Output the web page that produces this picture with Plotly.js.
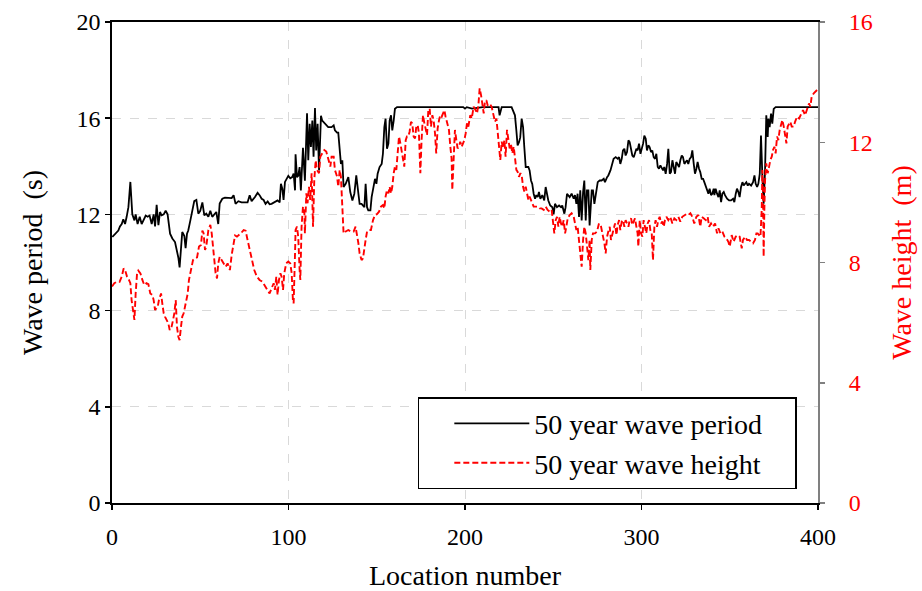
<!DOCTYPE html>
<html>
<head>
<meta charset="utf-8">
<script src="https://cdn.plot.ly/plotly-3.0.1.min.js"></script>
<style>html,body{margin:0;padding:0;background:#fff;}#chart{width:922px;height:591px;}</style>
</head>
<body>
<div id="chart"></div>
<script>
// 50 year wave period (s), left axis
const periodLoc = [0.2,1.7,3.6,4.5,5.5,6.4,7.4,8.3,9.3,10.4,11.5,12.7,13.4,14.5,15.7,16.8,17.9,19.1,20.2,21.3,22.5,23.6,24.4,25.3,26.3,27.2,28.1,29.3,30.4,31.5,32.9,34.2,35.7,36.8,37.6,38.3,39.1,39.8,41.0,41.7,42.5,43.2,44.4,45.5,46.6,47.8,48.9,50.0,51.2,52.3,53.4,54.6,55.7,56.8,58.0,59.1,60.2,61.0,62.5,64.0,67.8,68.9,70.0,71.6,73.4,75.3,76.8,78.0,79.1,81.0,82.5,83.6,84.8,85.9,87.0,88.2,89.3,90.4,92.0,93.8,95.0,95.7,96.5,97.2,98.0,99.1,99.9,101.0,102.1,102.9,103.7,104.0,104.8,105.5,106.3,107.0,108.2,109.3,110.5,111.2,112.0,112.7,113.5,114.2,115.0,115.7,116.5,117.3,118.4,119.1,120.7,122.5,124.4,125.6,126.3,127.5,128.2,129.0,129.7,130.5,131.2,132.4,133.9,135.0,136.2,137.3,138.4,139.6,140.3,141.4,142.2,143.0,143.7,144.5,145.2,146.4,147.1,148.2,149.0,149.8,150.5,151.6,152.8,153.5,154.3,155.0,155.8,156.6,157.3,158.1,158.8,159.6,160.3,161.5,170,180,190,199,200,201,204,210,215,219,219.6,220.8,226.4,227.6,228.3,229.1,229.8,230.6,231.3,232.1,232.9,233.6,234.4,235.9,236.6,237.4,238.1,238.9,239.7,240.4,241.2,241.9,242.7,243.8,244.9,245.7,246.5,247.2,248.3,249.5,250.2,251.0,252.1,253.3,254.4,255.1,256.3,257.0,257.8,258.5,259.3,260.4,261.6,262.3,263.1,263.8,264.6,265.3,266.1,266.9,267.6,268.4,269.1,269.9,270.6,271.8,272.5,273.3,274.0,275.2,276.3,277.4,278.6,279.3,280.5,281.2,282.4,283.1,284.2,285.4,286.5,287.3,288.0,288.8,289.5,290.3,291.0,291.8,292.6,293.3,294.1,294.8,295.6,296.3,297.1,297.8,298.6,299.4,300.1,300.9,301.6,302.4,303.1,303.9,304.6,305.4,306.1,306.9,307.7,308.4,309.2,309.9,310.7,311.4,312.2,312.9,313.7,314.5,315.2,316.0,316.7,317.5,318.2,319.0,319.7,320.5,321.3,322.0,322.8,323.5,324.3,325.0,325.8,326.5,327.3,328.1,328.8,329.6,330.3,331.1,331.8,332.6,333.3,334.1,334.9,335.6,336.4,337.1,337.9,338.6,339.4,340.1,340.9,341.3,342.0,342.8,343.6,344.3,345.1,345.8,346.6,347.3,348.5,349.6,350.7,351.9,352.6,353.4,354.1,354.9,355.6,356.4,357.2,357.9,358.7,359.4,360.2,360.9,362.1,363.2,364.0,364.7,365.5,366.2,367.0,367.7,368.5,369.2,370.0,370.7,371.5,371.9,372.6,373.4,374.1,374.9,376.0,385,400];
const periodVal = [11.06,11.2,11.33,11.5,11.6,11.8,11.6,11.9,12.3,13.35,12.0,11.75,12.0,11.6,11.9,11.6,11.8,11.95,11.9,11.95,11.6,12.0,11.5,12.4,11.55,12.1,11.96,12.0,12.15,12.0,11.2,11.0,10.85,10.5,10.2,9.8,10.5,11.27,11.1,10.6,11.2,11.33,11.75,12.15,12.55,12.6,12.03,12.15,12.5,11.96,12.03,11.9,12.15,11.9,12.0,12.1,11.6,12.45,12.65,12.7,12.68,12.8,12.44,12.55,12.5,12.5,12.5,12.8,12.55,12.72,12.9,12.8,12.65,12.6,12.44,12.54,12.42,12.44,12.5,12.58,12.5,13.27,13.07,12.6,13.35,13.5,13.6,13.5,13.55,13.7,13.0,14.5,13.55,13.6,13.97,13.0,14.77,13.4,16.2,14.25,15.77,14.8,15.9,14.4,16.42,14.66,15.77,13.83,16.1,15.9,15.77,15.63,15.63,15.7,15.5,15.4,15.4,14.8,14.1,14.25,13.14,13.27,13.55,12.93,12.58,12.86,13.62,12.86,12.44,12.44,12.37,12.3,13.27,12.3,12.17,12.17,12.72,13.27,13.48,13.27,13.69,13.97,14.1,14.52,15.63,15.98,14.73,14.94,15.9,16.12,15.49,15.9,16.39,16.46,16.46,16.46,16.46,16.46,16.4,16.46,16.4,16.46,16.46,16.46,16.12,16.46,16.46,16.25,16.12,15.49,14.87,15.0,15.2,15.98,15.63,14.8,13.97,13.97,13.83,13.41,13.27,12.86,12.65,12.8,12.72,12.93,12.65,12.8,12.58,13.14,12.86,12.58,12.37,12.3,12.0,12.44,12.3,12.37,12.3,12.37,12.03,12.3,12.86,12.8,12.72,12.86,12.65,12.8,12.44,12.86,11.89,13.0,11.75,12.93,13.41,11.75,13.0,13.0,11.54,13.0,13.0,12.44,12.86,13.34,13.41,13.41,13.48,13.34,13.55,13.62,13.83,14.04,14.31,14.38,14.31,14.38,14.1,14.31,14.66,14.73,14.45,14.59,15.08,15.01,14.59,14.45,14.38,14.59,14.73,14.66,14.94,14.52,14.73,14.94,15.28,15.15,14.66,14.87,14.8,14.59,14.66,14.38,14.31,14.52,13.97,13.9,14.04,13.9,13.83,13.97,13.69,14.1,14.73,13.69,13.76,14.25,14.04,13.69,14.18,14.1,13.97,14.25,14.45,14.38,14.1,14.18,14.25,14.1,14.31,14.38,14.66,14.1,13.69,13.9,14.18,13.9,13.76,13.48,13.48,13.34,13.14,13.0,12.86,13.07,12.8,12.86,13.07,12.8,13.07,12.86,12.72,13.0,12.51,12.86,12.93,12.8,12.65,12.58,12.58,12.65,12.51,12.86,13.07,12.93,12.72,13.14,13.34,13.2,13.27,13.34,13.2,13.27,13.2,13.34,13.62,13.27,13.14,13.27,13.69,15.28,13.55,12.44,13.83,16.12,15.22,15.98,15.63,16.19,15.77,16.39,16.46,16.46,16.46];

// 50 year wave height (m), right axis
const heightLoc = [0,1.3,2.8,4.3,5.5,6.6,7.4,8.5,9.6,10.4,11.1,11.9,12.7,13.4,14.2,14.9,16.1,17.2,18.3,19.5,20.6,21.7,22.9,23.6,24.4,25.1,25.9,26.6,27.8,28.5,29.3,30.0,31.2,31.9,32.7,33.8,34.6,35.3,36.1,36.8,37.6,38.3,39.1,39.8,40.6,41.4,42.1,42.9,43.6,44.8,45.9,47.0,48.2,49.3,50.4,51.2,51.9,52.7,53.4,54.6,55.7,56.5,57.2,58.0,58.7,59.5,60.2,61.0,62.1,63.3,64.4,65.5,66.8,67.8,68.7,69.7,70.8,71.9,73.0,74.6,75.7,76.8,78.0,79.1,80.6,82.1,83.6,85.2,86.7,88.2,89.3,90.4,91.6,92.3,93.1,93.8,94.6,95.4,96.1,96.9,97.6,98.7,99.9,101.0,101.8,102.5,102.9,103.7,104.0,104.8,105.5,106.3,106.7,107.4,108.2,109.0,109.3,110.1,110.8,111.6,112.3,113.1,113.9,114.6,115.4,116.1,117.3,118.0,119.1,120.3,121.4,122.5,123.7,124.4,125.6,126.3,127.5,128.2,129.0,129.7,130.5,131.2,132.4,133.9,135.4,136.9,138.0,138.8,139.6,140.3,141.4,142.2,143.0,143.7,144.5,145.6,146.7,147.9,149.0,150.1,151.3,152.4,153.5,154.3,155.0,155.8,156.6,157.3,158.1,158.8,159.6,160.3,161.1,161.8,162.6,163.4,164.1,164.9,165.6,166.4,167.1,167.9,168.6,169.4,170.1,170.9,171.7,172.4,173.2,173.9,174.7,175.4,176.2,177.0,177.7,178.5,179.2,180.0,180.7,181.5,182.2,183.0,183.7,184.5,185.3,186.0,186.8,187.5,188.3,189.0,189.8,190.9,191.7,192.4,192.8,193.6,194.3,195.1,195.8,196.6,197.3,198.1,198.9,199.6,200.4,201.1,201.9,203.0,203.8,204.9,206.0,206.8,207.6,208.3,209.1,209.8,210.6,211.3,212.1,212.8,214.0,215.1,216.2,217.0,217.8,218.5,219.3,220.0,220.8,221.5,222.3,223.0,223.8,224.6,225.3,226.1,226.8,227.6,228.3,229.1,229.8,230.6,231.4,232.1,232.9,233.6,234.4,235.1,235.9,236.6,237.4,238.1,238.9,240.0,241.2,242.3,243.4,244.6,245.7,246.8,248.0,249.1,249.9,250.6,251.4,252.1,252.9,253.6,254.4,255.1,255.9,256.7,257.4,258.2,259.3,260.4,261.6,262.3,263.1,263.8,264.6,265.3,266.1,266.9,267.6,268.4,269.1,269.9,270.6,271.0,271.8,272.5,273.7,274.8,275.9,277.1,278.2,279.0,279.7,280.5,281.2,282.0,282.7,283.5,284.2,285.0,285.8,286.5,287.3,288.0,288.8,289.5,290.3,291.0,291.8,292.6,293.3,294.1,294.8,295.6,296.3,297.1,297.8,298.2,299.0,299.7,300.5,301.2,302.0,302.7,303.5,304.3,305.0,305.8,306.5,307.3,308.0,308.8,309.5,310.3,311.1,311.8,312.6,313.3,314.1,315.2,316.3,317.5,318.6,319.7,320.9,322.0,323.1,324.3,325.4,326.5,327.7,328.8,329.9,331.1,332.2,333.3,334.1,335.2,336.4,337.5,338.3,339.4,340.5,341.7,342.8,343.6,344.7,345.8,347.0,348.1,349.2,350.0,351.1,352.2,353.4,354.5,355.6,356.8,357.5,358.7,359.8,360.9,362.1,363.2,364.3,365.1,365.8,366.6,367.4,368.1,368.5,368.9,369.2,369.6,370.0,370.7,371.5,372.3,373.0,373.8,374.5,375.3,376.0,376.8,377.5,378.3,379.1,379.8,380.6,381.3,382.1,382.8,383.6,384.3,385.1,386.2,387.0,388.1,389.3,390.4,391.5,392.7,393.8,394.9,395.7,396.4,397.6,398.7,399.5];
const heightVal = [7.2,7.31,7.36,7.36,7.53,7.8,7.75,7.53,7.42,7.31,6.75,6.31,6.09,6.97,7.64,7.73,7.64,7.42,7.25,7.31,7.28,6.97,6.92,6.75,6.42,6.47,6.53,6.75,6.97,6.64,6.31,6.2,6.09,5.98,5.75,5.87,6.09,6.31,6.75,5.87,5.53,5.42,5.87,6.2,6.31,6.53,6.75,6.97,7.42,7.75,8.08,8.14,8.17,8.53,8.58,9.06,8.97,8.42,8.53,9.08,9.25,8.97,8.53,8.08,7.64,7.47,7.97,8.19,8.08,7.97,7.86,7.97,7.75,8.25,8.53,8.9,8.86,8.9,8.97,9.08,9.06,8.75,8.42,8.08,7.75,7.53,7.42,7.36,7.2,7.09,6.97,7.14,7.31,7.09,7.53,6.92,7.42,7.64,7.53,7.09,7.64,7.97,8.03,7.97,7.64,6.75,6.64,8.3,9.08,9.19,8.86,7.75,7.42,9.19,9.86,9.64,8.97,10.3,9.97,10.52,10.08,10.97,9.19,10.74,11.4,11.08,10.97,11.52,11.63,11.74,11.69,11.41,11.19,11.52,11.52,11.08,10.86,10.52,11.08,10.86,9.86,8.97,9.03,9.08,9.03,9.03,9.19,8.97,8.64,8.3,8.08,8.14,8.53,8.75,9.03,9.08,9.08,9.41,9.58,9.61,9.69,9.86,9.91,9.8,10.19,10.41,10.3,10.52,10.3,10.52,10.97,11.19,11.08,11.74,12.19,11.96,11.69,11.52,11.19,12.07,12.19,12.19,12.35,12.68,12.63,12.19,12.13,12.52,12.57,12.3,10.97,12.07,12.9,12.63,12.41,12.24,13.06,13.12,12.52,12.9,12.74,12.3,11.63,12.46,12.74,12.9,12.85,12.96,13.07,12.85,12.68,12.41,11.85,11.46,10.41,11.63,12.41,12.07,11.8,11.85,12.02,11.85,11.96,12.07,12.3,12.63,12.52,12.9,12.79,13.18,13.07,12.96,13.24,13.79,13.57,13.29,12.96,13.35,13.4,13.24,13.29,13.18,12.85,12.68,12.79,12.35,11.85,11.41,12.02,11.8,12.07,11.52,12.41,12.07,11.8,11.91,11.63,11.85,11.41,11.08,11.02,10.85,10.97,10.91,10.52,10.36,10.52,10.36,10.08,10.19,10.08,9.97,9.86,9.86,9.86,9.8,9.8,9.75,9.86,9.75,9.69,9.75,9.3,8.97,9.41,9.52,9.19,9.52,9.3,9.19,9.41,8.97,9.19,9.47,9.58,9.64,9.52,9.3,9.08,9.19,8.75,8.19,7.86,8.75,9.19,8.97,8.53,8.08,8.75,7.75,8.75,8.97,8.97,9.03,9.3,9.19,8.86,8.64,8.3,8.86,9.03,9.19,8.75,8.97,9.14,9.3,8.91,9.25,9.41,9.08,9.36,9.41,9.19,9.41,9.3,9.19,9.41,9.47,9.25,9.41,9.47,9.19,8.97,8.53,9.41,8.97,8.86,9.41,9.19,8.97,9.3,9.41,9.08,8.97,8.08,9.19,9.41,9.19,9.41,9.52,9.3,9.36,9.19,9.41,9.52,9.41,9.52,9.3,9.47,9.41,9.52,9.36,9.52,9.58,9.61,9.58,9.64,9.52,9.3,9.52,9.58,9.19,9.52,9.47,9.41,9.52,9.19,9.3,9.19,9.3,8.97,9.14,8.97,9.03,8.86,8.8,8.69,8.53,8.91,8.69,8.86,8.91,8.86,8.47,8.75,8.86,8.75,8.75,8.69,8.64,8.75,8.97,8.97,8.91,8.86,9.75,11.08,10.08,8.19,9.75,10.74,11.3,10.97,11.19,11.41,11.52,11.74,11.85,11.63,12.19,12.07,12.41,12.63,12.74,12.52,12.19,11.96,12.52,12.63,12.68,12.52,12.52,12.68,12.85,12.79,12.96,13.07,12.9,13.07,13.29,13.18,13.52,13.63,13.68,13.74];

const seriesNames = ['50 year wave period', '50 year wave height'];
const xTitle = 'Location number';
const yTitle = 'Wave period  (s)';
const y2Title = 'Wave height  (m)';

const FONT = '"Liberation Serif", "Times New Roman", serif';
const PAD = '\u00a0\u00a0\u00a0\u00a0';

const traces = [
  {x: periodLoc, y: periodVal, name: seriesNames[0] + PAD, type: 'scatter', mode: 'lines',
   line: {color: '#000000', width: 1.8}, yaxis: 'y'},
  {x: heightLoc, y: heightVal, name: seriesNames[1] + PAD, type: 'scatter', mode: 'lines',
   line: {color: '#ff0000', width: 1.9, dash: '6px,3px'}, yaxis: 'y2'}
];

const layout = {
  width: 922, height: 591,
  margin: {l: 112, r: 104, t: 22, b: 88, pad: 0},
  paper_bgcolor: '#ffffff', plot_bgcolor: '#ffffff',
  font: {family: FONT, size: 24, color: '#000'},
  showlegend: true,
  legend: {
    x: 0.97, xanchor: 'right', y: 0.22, yanchor: 'top',
    bgcolor: '#ffffff', bordercolor: '#000000', borderwidth: 1.5,
    font: {family: FONT, size: 28, color: '#000'},
    itemwidth: 75, tracegroupgap: 0, indentation: 30
  },
  xaxis: {
    range: [0, 400], dtick: 100, tick0: 0,
    showline: true, linecolor: '#000', linewidth: 1.8, mirror: true,
    ticks: 'outside', ticklen: 5, tickwidth: 1.5, tickcolor: '#000',
    showgrid: true, gridcolor: '#d9d9d9', griddash: 'dash', gridwidth: 1,
    zeroline: false, ticklabelstandoff: 6,
    tickfont: {family: FONT, size: 24, color: '#000'},
    title: {text: xTitle, font: {family: FONT, size: 28, color: '#000'}, standoff: 17}
  },
  yaxis: {
    range: [0, 20], dtick: 4, tick0: 0,
    showline: true, linecolor: '#000', linewidth: 1.8,
    ticks: 'outside', ticklen: 5, tickwidth: 1.5, tickcolor: '#000',
    showgrid: true, gridcolor: '#d9d9d9', griddash: 'dash', gridwidth: 1,
    zeroline: false,
    tickfont: {family: FONT, size: 24, color: '#000'},
    title: {text: yTitle, font: {family: FONT, size: 28, color: '#000'}, standoff: 26}
  },
  yaxis2: {
    range: [0, 16], dtick: 4, tick0: 0,
    overlaying: 'y', side: 'right', anchor: 'x',
    showline: true, linecolor: '#808080', linewidth: 2,
    ticks: 'outside', ticklen: 5, tickwidth: 1.5, tickcolor: '#808080',
    showgrid: false, zeroline: false, ticklabelstandoff: 19,
    tickfont: {family: FONT, size: 24, color: '#ff0000'},
    title: {text: y2Title, font: {family: FONT, size: 28, color: '#ff0000'}, standoff: 20}
  }
};

Plotly.newPlot('chart', traces, layout, {displayModeBar: false, staticPlot: true});
</script>
</body>
</html>
